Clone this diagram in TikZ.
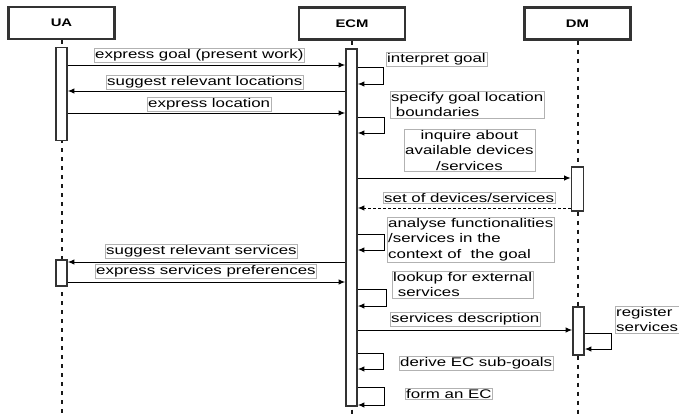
\documentclass[tikz,border=0pt]{standalone}
\usepackage{fontspec}
\setmainfont{Liberation Sans}[FakeStretch=1.35]
\usetikzlibrary{arrows.meta}
\tikzset{
	head/.style={draw=black!80, line width=2.2pt, minimum width=106pt, minimum height=32pt, inner sep=0pt, font=\fontsize{11}{13}\selectfont\bfseries},
	act/.style={draw=black!80, line width=1.7pt, fill=white, inner sep=0pt, minimum width=11pt},
	life/.style={line width=2pt, black!90, dash pattern=on 4pt off 5pt},
	msg/.style={-{Latex[length=6.5pt,width=5.5pt]}, line width=1pt},
	reply/.style={msg, dash pattern=on 3pt off 2pt},
	note/.style={draw=black!30, line width=0.4pt, inner sep=1pt, anchor=north west, align=left, font=\fontsize{12.5}{15.5}\selectfont}
}

\begin{document}
\begin{tikzpicture}[x=1pt,y=-1pt]
			%%%%% START %%%%%
			\useasboundingbox (0,0) rectangle (679,415);
			
			\node[head] (ua) at (61.5,23) {UA};
			\node[head] (ecm) at (352,23.5) {ECM};
			\node[head] (dm) at (577.5,23.5) {DM};
			
			\draw[life] (ua.south) -- (ua.south |- 0,415);
			\draw[life] (ecm.south) -- (ecm.south |- 0,415);
			\draw[life] (dm.south) -- (dm.south |- 0,415);
			
			\node[act, minimum height=93pt] (uaA) at (61.5,94) {};
			\node[act, minimum height=26pt] (uaB) at (61.5,273) {};
			\node[act, minimum height=357pt] (ecmA) at (351.5,227.5) {};
			\node[act, minimum width=12pt, minimum height=44pt] (dmA) at (577.5,189) {};
			\node[act, minimum height=48pt] (dmB) at (578.5,331) {};
			
			\node[note] (goal) at (94,48) {express goal (present work)};
			\draw[msg] (uaA.east |- 0,65) -- (ecmA.west |- 0,65);
			
			\node[note] (locs) at (106,75) {suggest relevant locations};
			\draw[msg] (ecmA.west |- 0,91) -- (uaA.east |- 0,91);
			
			\node[note] (loc) at (147,97) {express location};
			\draw[msg] (uaA.east |- 0,113) -- (ecmA.west |- 0,113);
			
			\node[note] (interp) at (386,52) {interpret goal};
			\draw[msg] (ecmA.east |- 0,67) -- ++(26,0) |- (ecmA.east |- 0,84);
			
			\node[note] (bound) at (390,91) {specify goal location\\\ boundaries};
			\draw[msg] (ecmA.east |- 0,117) -- ++(27,0) |- (ecmA.east |- 0,133);
			
			\node[note, align=center] (inq) at (404,129) {inquire about\\available devices\\/services};
			\draw[msg] (ecmA.east |- 0,178) -- (dmA.west |- 0,178);
			
			\node[note] (devs) at (383,192) {set of devices/services};
			\draw[reply] (dmA.west |- 0,208) -- (ecmA.east |- 0,208);
			
			\node[note] (anal) at (387,217) {analyse functionalities\\/services in the\\context of \ the goal};
			\draw[msg] (ecmA.east |- 0,234) -- ++(27,0) |- (ecmA.east |- 0,250);
			
			\node[note] (sugg) at (105,244) {suggest relevant services};
			\draw[msg] (ecmA.west |- 0,262) -- (uaB.east |- 0,262);
			
			\node[note] (pref) at (95,264) {express services preferences};
			\draw[msg] (uaB.east |- 0,282) -- (ecmA.west |- 0,282);
			
			\node[note] (look) at (392,271) {lookup for external\\\ services};
			\draw[msg] (ecmA.east |- 0,289) -- ++(29,0) |- (ecmA.east |- 0,306);
			
			\node[note] (desc) at (390,312) {services description};
			\draw[msg] (ecmA.east |- 0,330) -- (dmB.west |- 0,330);
			
			\node[note] (reg) at (615,306) {register\\services};
			\draw[msg] (dmB.east |- 0,333) -- ++(27,0) |- (dmB.east |- 0,349);
			
			\node[note] (sub) at (399,356) {derive EC sub-goals};
			\draw[msg] (ecmA.east |- 0,353) -- ++(26,0) |- (ecmA.east |- 0,369);
			
			\node[note] (form) at (405,388) {form an EC};
			\draw[msg] (ecmA.east |- 0,387) -- ++(27,0) |- (ecmA.east |- 0,405);
			
			%%%%% END %%%%%
\end{tikzpicture}
\end{document}
